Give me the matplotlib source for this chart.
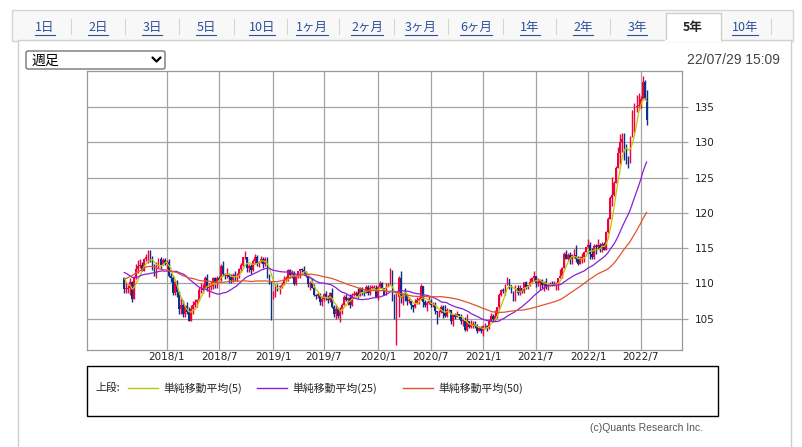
# USD/JPY weekly candles, 5 years, with simple moving averages
import numpy as np
import pandas as pd
import matplotlib
matplotlib.use("Agg")
import matplotlib.pyplot as plt
from matplotlib.patches import Rectangle, FancyBboxPatch

JP = ['Noto Sans CJK JP', 'DejaVu Sans']
plt.rcParams['font.family'] = ['DejaVu Sans']

# ---------------- data ----------------
first_week = "2017-08-07"   # monday of first weekly candle

# weekly closes before the chart window (for the moving averages)
prior_close = [
    103.9,
    102.6, 102.3, 101.0, 101.3,
    102.9, 104.2, 103.8, 104.7, 103.1,
    106.7, 110.9, 113.2, 113.5,
    115.3, 118.0, 117.3, 117.0,
    117.0, 114.5, 114.6, 115.1, 112.6,
    113.2, 112.9, 112.1, 114.0,
    114.8, 112.7, 111.3, 111.4,
    110.8, 108.6, 109.0, 111.5,
    112.7, 113.4, 111.3, 111.3, 110.4,
    110.3, 110.9, 111.3, 112.4,
    113.9, 112.5, 111.1, 110.7, 110.7,
]

week_close = [
    # 2017
    109.2, 109.2, 109.4, 110.2,
    107.8, 110.8, 112.0, 112.5,
    112.6, 111.8, 113.5, 113.7, 114.1,
    113.5, 112.1, 111.5, 112.2,
    113.5, 112.6, 113.3, 112.7,
    # 2018
    113.1, 111.1, 110.8, 108.6, 110.2,
    108.8, 106.3, 106.9, 105.7,
    106.8, 106.0, 104.7, 106.3,
    106.9, 107.4, 107.7, 109.0, 109.1,
    109.4, 110.8, 109.4, 109.5,
    109.6, 110.7, 110.0, 110.8,
    110.5, 112.4, 111.4, 111.0, 111.2,
    110.9, 110.5, 111.2, 111.0,
    111.0, 112.0, 112.6, 113.7,
    113.7, 112.2, 112.5, 111.9, 113.2,
    113.8, 112.8, 113.0, 113.5,
    112.7, 113.4, 111.2, 110.3, 108.5,
    # 2019
    108.5, 109.8, 109.5, 109.5,
    109.7, 110.5, 110.7, 111.9,
    111.2, 111.5, 109.9, 110.9,
    111.7, 112.0, 111.9, 111.6, 111.1,
    109.9, 110.1, 109.3, 108.3,
    108.2, 108.5, 107.3, 107.8,
    108.5, 107.9, 107.7, 108.7, 106.6,
    105.7, 106.4, 105.4, 106.3,
    106.9, 108.1, 107.6, 107.9, 106.9,
    108.4, 108.4, 108.7, 108.2,
    109.3, 108.8, 108.7, 109.5,
    108.6, 109.4, 109.4, 109.4, 108.1,
    # 2020
    109.5, 110.1, 109.3, 108.4,
    109.8, 109.8, 111.6, 108.0,
    105.4, 108.0, 110.8, 107.9, 108.5,
    108.4, 107.5, 107.5, 106.9,
    106.6, 107.1, 107.7, 107.8,
    109.6, 107.4, 106.9, 107.2, 107.5,
    106.9, 107.0, 106.1, 105.9,
    105.9, 106.6, 105.8, 105.4, 106.2,
    106.2, 104.6, 105.6, 105.3,
    105.6, 105.4, 104.7, 104.7,
    103.4, 104.6, 103.8, 104.1, 104.2,
    104.0, 103.3, 103.6, 103.2,
    # 2021
    103.9, 103.9, 103.8, 104.7,
    105.4, 104.9, 105.4, 106.6,
    108.4, 109.0, 108.9, 109.7, 110.6,
    109.7, 108.8, 107.9, 109.3,
    108.6, 109.4, 108.9, 110.2, 109.5,
    109.7, 110.2, 110.8, 111.0,
    110.1, 110.1, 110.5, 109.7,
    110.2, 109.6, 109.8, 109.8, 109.7,
    109.9, 109.9, 110.7, 111.0,
    112.2, 114.2, 113.5, 114.0,
    113.4, 114.0, 114.0, 113.4, 112.8,
    113.4, 113.7, 114.4, 115.1,
    # 2022
    115.5, 114.1, 113.7, 115.3, 115.2,
    115.4, 115.0, 115.6, 114.8,
    117.3, 119.2, 122.1, 122.5,
    124.3, 126.4, 128.5, 130.0,
    130.5, 129.2, 127.8, 127.1, 130.8,
    134.4, 135.0, 135.2, 135.2,
    136.1, 138.6, 136.1, 133.2,
]

week_high = [
    # 2017
    110.9, 110.0, 109.8, 110.7,
    110.3, 111.0, 112.7, 113.3,
    113.4, 113.0, 113.6, 114.2, 114.7,
    114.7, 113.9, 112.7, 113.0,
    113.6, 113.7, 113.6, 113.6,
    # 2018
    113.3, 113.4, 111.5, 111.1, 110.5,
    110.5, 108.9, 107.9, 107.7,
    107.0, 107.3, 106.6, 107.0,
    107.5, 107.8, 107.8, 109.5, 110.0,
    109.9, 111.0, 111.4, 110.0,
    110.3, 110.9, 110.9, 111.1,
    111.1, 112.8, 113.2, 111.5, 112.2,
    111.5, 111.4, 111.5, 111.8,
    111.5, 112.2, 112.9, 113.7,
    114.6, 113.7, 112.7, 112.8, 113.4,
    114.1, 114.0, 113.2, 113.9,
    113.8, 113.7, 113.7, 111.4, 110.3,
    # 2019
    108.9, 109.9, 109.9, 109.7,
    110.2, 111.1, 111.0, 112.1,
    112.1, 111.9, 111.7, 111.0,
    111.8, 112.0, 112.2, 112.4, 111.7,
    111.1, 110.3, 110.7, 109.9,
    108.5, 108.8, 108.6, 108.2,
    108.6, 108.9, 108.4, 108.8, 109.3,
    106.9, 106.9, 106.7, 106.7,
    107.2, 108.3, 108.5, 108.0, 108.5,
    108.6, 108.9, 108.9, 109.3,
    109.5, 109.5, 109.1, 109.7,
    109.7, 109.7, 109.7, 109.7, 109.7,
    # 2020
    109.6, 110.3, 110.2, 109.3,
    110.0, 110.1, 112.2, 111.9,
    108.5, 108.6, 111.0, 111.7, 108.7,
    109.4, 108.1, 108.0, 107.6,
    107.0, 107.8, 108.0, 108.1,
    109.9, 109.6, 107.7, 107.5, 108.2,
    107.8, 107.4, 107.4, 106.0,
    106.2, 107.0, 106.9, 106.9, 106.5,
    106.4, 106.2, 105.7, 105.8,
    106.1, 105.7, 105.6, 105.0,
    105.3, 105.7, 104.7, 104.8, 104.6,
    104.6, 104.2, 104.0, 103.9,
    # 2021
    104.1, 104.4, 104.1, 104.9,
    105.8, 105.7, 106.2, 106.7,
    108.6, 109.2, 109.4, 109.9, 110.9,
    110.6, 109.8, 108.9, 109.7,
    109.7, 109.8, 109.4, 110.2, 110.3,
    109.8, 110.8, 110.9, 111.7,
    111.0, 110.7, 110.6, 110.6,
    110.4, 110.8, 110.0, 110.2, 110.4,
    110.4, 110.2, 110.8, 112.0,
    112.3, 114.5, 114.7, 114.3,
    114.4, 114.1, 114.9, 115.5, 113.9,
    113.9, 114.3, 114.6, 115.2,
    # 2022
    116.3, 115.9, 115.0, 115.6, 115.6,
    116.3, 115.7, 115.8, 115.8,
    117.4, 119.4, 122.4, 125.1,
    124.5, 126.7, 129.4, 131.2,
    131.3, 131.3, 129.8, 128.0, 130.9,
    134.6, 135.6, 136.7, 137.0,
    136.6, 139.4, 138.9, 137.5,
]

week_low = [
    # 2017
    108.7, 108.6, 108.6, 108.3,
    107.3, 107.9, 110.6, 111.5,
    112.2, 111.7, 111.7, 113.2, 112.9,
    113.1, 111.9, 111.1, 110.8,
    112.0, 112.0, 112.6, 112.6,
    # 2018
    112.1, 110.9, 110.2, 108.3, 108.3,
    108.1, 105.6, 105.6, 105.2,
    105.3, 105.6, 104.6, 104.8,
    105.7, 106.6, 106.6, 107.5, 108.7,
    108.6, 109.4, 108.9, 108.1,
    109.0, 109.2, 109.4, 109.4,
    110.3, 110.3, 111.0, 110.6, 110.8,
    110.1, 110.1, 110.2, 110.4,
    110.4, 110.8, 111.6, 112.4,
    113.5, 111.6, 111.6, 111.4, 111.8,
    112.8, 112.4, 112.3, 112.9,
    112.2, 112.5, 110.8, 109.9, 104.8,
    # 2019
    107.8, 108.1, 108.9, 108.5,
    109.4, 109.9, 110.4, 110.4,
    110.8, 110.8, 109.8, 109.7,
    110.8, 110.8, 111.6, 111.4, 110.9,
    109.5, 109.0, 109.3, 108.2,
    107.8, 107.9, 107.0, 106.8,
    107.5, 107.7, 107.2, 107.4, 106.5,
    105.3, 105.0, 105.1, 104.5,
    105.7, 106.9, 107.5, 107.0, 106.5,
    106.8, 108.2, 108.2, 107.9,
    108.2, 108.3, 108.2, 108.6,
    108.4, 108.4, 109.2, 109.2, 108.1,
    # 2020
    107.7, 109.4, 109.2, 108.3,
    108.3, 109.6, 109.7, 107.5,
    105.0, 101.2, 105.2, 107.2, 106.9,
    107.5, 106.9, 107.2, 106.4,
    106.0, 106.5, 107.3, 107.1,
    107.6, 106.6, 106.7, 106.1, 107.1,
    106.6, 106.6, 105.7, 104.2,
    105.3, 105.8, 105.1, 105.2, 105.2,
    105.9, 104.3, 104.0, 105.0,
    105.3, 104.9, 104.3, 104.0,
    103.2, 103.2, 103.7, 103.7, 103.7,
    103.7, 102.9, 103.2, 102.9,
    # 2021
    102.6, 103.5, 103.3, 103.5,
    104.6, 104.5, 104.6, 105.1,
    106.4, 108.2, 108.6, 108.4, 109.7,
    109.2, 108.6, 107.5, 107.5,
    108.3, 108.3, 108.6, 108.6, 109.2,
    109.2, 109.6, 110.0, 110.4,
    109.5, 109.6, 109.1, 109.4,
    108.9, 109.2, 109.1, 109.6, 109.6,
    109.6, 109.1, 109.1, 110.7,
    110.8, 112.2, 113.4, 113.3,
    112.7, 112.7, 113.6, 113.1, 112.6,
    112.9, 112.9, 113.1, 114.4,
    # 2022
    115.0, 113.5, 113.5, 113.5, 114.2,
    114.9, 114.5, 114.4, 114.7,
    114.8, 117.2, 119.1, 121.0,
    122.4, 124.3, 126.4, 126.9,
    128.6, 127.5, 126.9, 126.4, 127.2,
    130.7, 131.5, 134.3, 134.8,
    134.9, 136.0, 136.5, 132.5,
]

tick_months = ["2018-01", "2018-07", "2019-01", "2019-07", "2020-01",
               "2020-07", "2021-01", "2021-07", "2022-01", "2022-07"]
y_ticks = [105, 110, 115, 120, 125, 130, 135]

ma_periods = [5, 25, 50]
ma_labels = ["単純移動平均(5)", "単純移動平均(25)", "単純移動平均(50)"]
ma_colors = ["#b9c800", "#8a1fd6", "#e2542a"]

tab_labels = ["1日", "2日", "3日", "5日", "10日", "1ヶ月", "2ヶ月", "3ヶ月",
              "6ヶ月", "1年", "2年", "3年", "5年", "10年"]
tab_centers = [45, 98, 152, 206, 262, 312, 367, 421, 476, 530, 583, 637, 693, 745]
selected_tab = "5年"

UP = "#f2003c"
DOWN = "#0d2f8c"

# ---------------- prepare ----------------
close = np.array(week_close)
openp = np.r_[prior_close[-1], close[:-1]]
high = np.maximum(np.array(week_high), np.maximum(openp, close))
low = np.minimum(np.array(week_low), np.minimum(openp, close))
dates = pd.date_range(first_week, periods=len(close), freq="7D")
x = np.arange(len(close))

all_close = pd.Series(prior_close + week_close)
mas = [all_close.rolling(p).mean().iloc[len(prior_close):].values for p in ma_periods]

tick_pos = [int(np.searchsorted(dates, pd.Timestamp(m))) for m in tick_months]
tick_lab = ["{}/{}".format(pd.Timestamp(m).year, pd.Timestamp(m).month) for m in tick_months]

# ---------------- figure ----------------
fig = plt.figure(figsize=(8.03, 4.47), dpi=100)
fig.patch.set_facecolor("white")

bg = fig.add_axes([0, 0, 1, 1])
bg.set_xlim(0, 803)
bg.set_ylim(447, 0)
bg.axis("off")

# tab bar and panel
bg.add_patch(Rectangle((12, 10), 781, 31, facecolor="#f8f8f8", edgecolor="#d6d6d6", lw=1))
bg.add_patch(Rectangle((18, 40), 773, 420, facecolor="white", edgecolor="#cfcfcf", lw=1))
sel_i = tab_labels.index(selected_tab)
bg.add_patch(Rectangle((tab_centers[sel_i] - 27, 13), 55, 28, facecolor="white",
                       edgecolor="#cfcfcf", lw=1, zorder=3))
bg.plot([tab_centers[sel_i] - 26.5, tab_centers[sel_i] + 27.5], [40.5, 40.5],
        color="white", lw=1.6, zorder=4)

renderer = fig.canvas.get_renderer()
for i, (lab, cx) in enumerate(zip(tab_labels, tab_centers)):
    if lab == selected_tab:
        bg.text(cx, 27, lab, ha="center", va="center", fontsize=9, fontweight="bold",
                color="#222222", family=JP, zorder=5)
        continue
    t = bg.text(cx, 27, lab, ha="center", va="center", fontsize=9,
                color="#2a4f9c", family=JP, zorder=5)
    bb = t.get_window_extent(renderer)
    bg.plot([bb.x0, bb.x1], [35, 35], color="#2a4f9c", lw=0.8, zorder=5)
    if i < len(tab_labels) - 1 and tab_labels[i + 1] != selected_tab:
        sx = (cx + tab_centers[i + 1]) / 2
        bg.plot([sx, sx], [19, 34], color="#d4d4d4", lw=0.8)
bg.plot([771, 771], [19, 34], color="#d4d4d4", lw=0.8)

# select box
bg.add_patch(FancyBboxPatch((26, 51), 139, 18, boxstyle="round,pad=0,rounding_size=2",
                            facecolor="white", edgecolor="#767676", lw=1))
bg.text(31, 60.5, "週足", ha="left", va="center", fontsize=10, color="black", family=JP)
bg.plot([152.5, 156.5, 160.5], [57.5, 61.5, 57.5], color="black", lw=1.6,
        solid_capstyle="round", solid_joinstyle="round")

bg.text(780, 60, "22/07/29 15:09", ha="right", va="center", fontsize=10,
        color="#444444", family=["Liberation Sans", "DejaVu Sans"])

# legend box
bg.add_patch(Rectangle((87, 366), 631, 50, facecolor="none", edgecolor="black", lw=1))
bg.text(95, 388, "上段:", ha="left", va="center", fontsize=7.8, color="#222222", family=JP)
leg_x = [128, 257, 403]
for lx, lab, col in zip(leg_x, ma_labels, ma_colors):
    bg.plot([lx, lx + 30], [388, 388], color=col, lw=1)
    bg.text(lx + 35, 388, lab, ha="left", va="center", fontsize=7.8, color="#222222", family=JP)

bg.text(703, 428, "(c)Quants Research Inc.", ha="right", va="center", fontsize=7.5,
        color="#555555", family=["Liberation Sans", "DejaVu Sans"])

# ---------------- price axes ----------------
ax = fig.add_axes([87.5 / 803, 1 - 349.5 / 447, 595 / 803, 279 / 447])
ax.set_facecolor("white")

up = close >= openp
cols = np.where(up, UP, DOWN)
ax.vlines(x, low, high, colors=cols, lw=1.0, zorder=2)
ax.bar(x, np.maximum(np.abs(close - openp), 0.08), bottom=np.minimum(openp, close),
       width=0.9, color=cols, lw=0, zorder=2)

for m, col in zip(mas, ma_colors):
    ax.plot(x, m, color=col, lw=0.9, zorder=3)

ax.set_xlim(-18.2, 276.8)
ax.set_ylim(100.62, 140.2)
ax.set_xticks(tick_pos)
ax.set_xticklabels(tick_lab)
ax.set_yticks(y_ticks)
ax.yaxis.tick_right()
ax.grid(True, color="#a3a3a3", lw=0.9, zorder=0)
ax.set_axisbelow(True)
ax.tick_params(axis="x", length=0, pad=2, labelsize=7.5, labelcolor="#222222")
ax.tick_params(axis="y", length=4, width=0.9, color="#a3a3a3", pad=5,
               labelsize=7.5, labelcolor="#222222")
for s in ax.spines.values():
    s.set_color("#999999")
    s.set_linewidth(0.9)

fig.savefig("out.png", dpi=100)
